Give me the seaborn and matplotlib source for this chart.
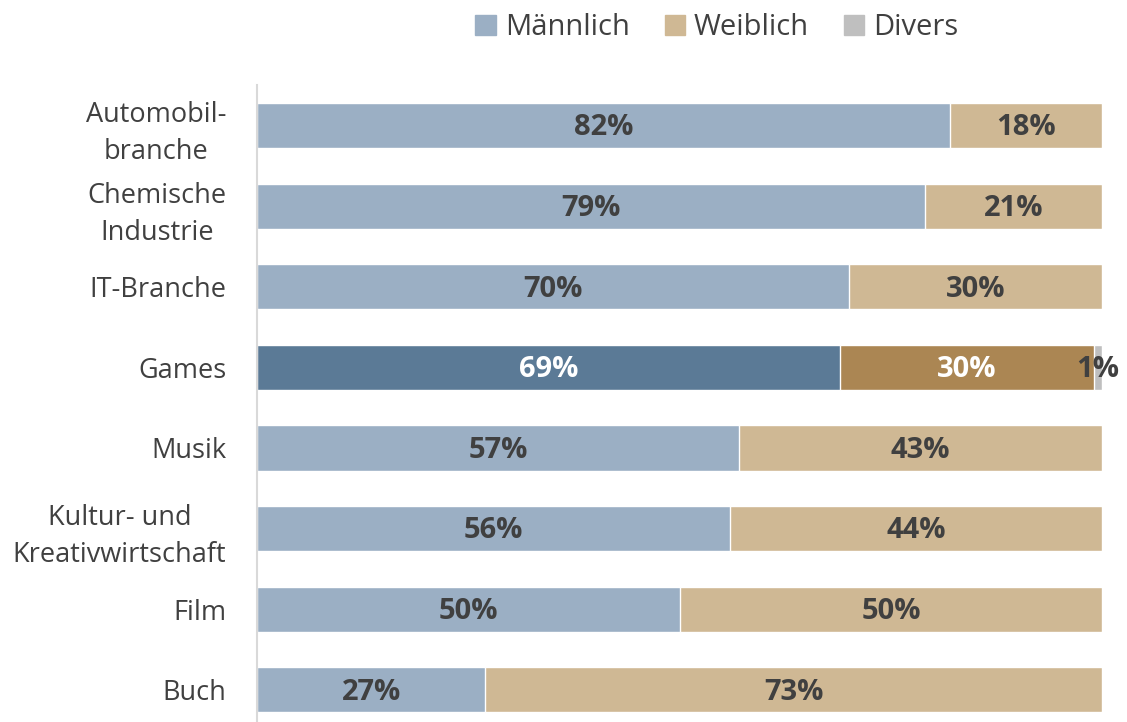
import numpy as np
import pandas as pd
import matplotlib.pyplot as plt
import seaborn as sns

# Daten
branchen = ['Automobil-\nbranche', 'Chemische\nIndustrie', 'IT-Branche', 'Games', 'Musik',
            'Kultur- und\nKreativwirtschaft', 'Film', 'Buch']
maennlich = [82, 79, 70, 69, 57, 56, 50, 27]
weiblich = [18, 21, 30, 30, 43, 44, 50, 73]
divers = [0, 0, 0, 1, 0, 0, 0, 0]
highlight = 'Games'

c_m, c_w, c_d = '#9BAFC4', '#CFB894', '#BFBFBF'
c_m_hi, c_w_hi = '#5B7A96', '#AB8653'
txt = '#404040'

sns.set_theme(style='white')
plt.rcParams['font.family'] = ['Open Sans', 'DejaVu Sans']

df = pd.DataFrame({'branche': branchen, 'm': maennlich, 'w': weiblich, 'd': divers})
df['mw'] = df['m'] + df['w']
df['mwd'] = df['mw'] + df['d']

fig = plt.figure(figsize=(11.27, 7.22), dpi=100)
ax = fig.add_axes([0.228, 0.0, 0.75, 0.882])

pal_d = {b: c_d for b in branchen}
pal_w = {b: (c_w_hi if b == highlight else c_w) for b in branchen}
pal_m = {b: (c_m_hi if b == highlight else c_m) for b in branchen}

for col, pal in [('mwd', pal_d), ('mw', pal_w), ('m', pal_m)]:
    sns.barplot(data=df, x=col, y='branche', hue='branche', palette=pal, legend=False,
                orient='h', width=0.56, saturation=1, ax=ax)

# Beschriftungen
fs = 21
for i, row in df.iterrows():
    hi = row['branche'] == highlight
    col_in = 'white' if hi else txt
    ax.text(row['m'] / 2, i + 0.03, f"{row['m']}%", ha='center', va='center',
            fontsize=fs, fontweight='bold', color=col_in)
    ax.text(row['m'] + row['w'] / 2, i + 0.03, f"{row['w']}%", ha='center', va='center',
            fontsize=fs, fontweight='bold', color=col_in)
    if row['d'] > 0:
        ax.text(row['mw'] + row['d'] / 2, i + 0.03, f"{row['d']}%", ha='center', va='center',
                fontsize=fs, fontweight='bold', color=txt)

ax.set_xlim(0, 100)
ax.set_ylim(7.4, -0.5)
ax.set_xlabel('')
ax.set_ylabel('')
ax.set_xticks([])
ax.tick_params(axis='y', length=0, pad=22, labelsize=19.5, labelcolor=txt)
for lab in ax.get_yticklabels():
    lab.set_multialignment('center')
    lab.set_linespacing(1.45)
for s in ['top', 'right', 'bottom']:
    ax.spines[s].set_visible(False)
ax.spines['left'].set_color('#D9D9D9')
ax.spines['left'].set_linewidth(1.5)

# Legende
handles = [plt.Rectangle((0, 0), 1, 1, color=c) for c in [c_m, c_w, c_d]]
fig.legend(handles, ['Männlich', 'Weiblich', 'Divers'], loc='center', bbox_to_anchor=(0.636, 0.962),
           ncol=3, frameon=False, fontsize=21, handlelength=0.7, handleheight=0.7,
           handletextpad=0.3, columnspacing=1.2, labelcolor=txt)

fig.savefig('out.png', dpi=100)
